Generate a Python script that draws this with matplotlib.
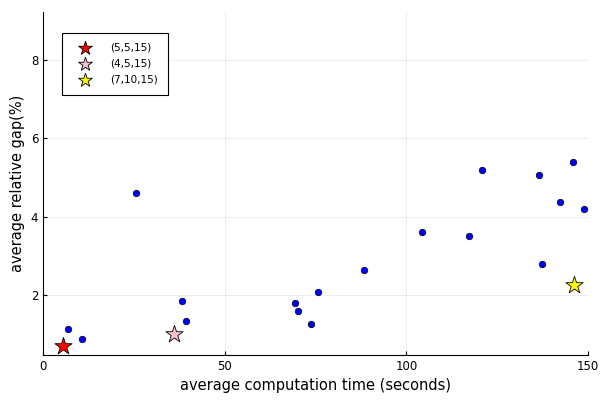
import matplotlib
matplotlib.use("Agg")
import matplotlib.pyplot as plt

# average computation time (s) vs average relative gap (%)
time_s = [6.8, 10.7, 25.6, 38.3, 39.4, 69.2, 70.2, 73.8, 75.7, 88.4,
          104.3, 117.3, 120.9, 136.6, 137.4, 142.4, 145.9, 148.9]
gap_pct = [1.14, 0.88, 4.60, 1.85, 1.35, 1.79, 1.60, 1.26, 2.09, 2.63,
           3.62, 3.52, 5.20, 5.07, 2.79, 4.39, 5.41, 4.20]

star_labels = ["(5,5,15)", "(4,5,15)", "(7,10,15)"]
star_x = [5.4, 36.1, 146.2]
star_y = [0.70, 1.00, 2.26]
star_colors = ["red", "pink", "yellow"]

fig = plt.figure(figsize=(6, 4), dpi=100)
ax = fig.add_axes([0.072, 0.1125, 0.908, 0.8575])

ax.scatter(time_s, gap_pct, s=22, c="blue", edgecolors="black", linewidths=0.5, zorder=3)
for lab, x, y, c in zip(star_labels, star_x, star_y, star_colors):
    ax.scatter([x], [y], marker="*", s=170, c=c, edgecolors="black",
               linewidths=0.6, label=lab, zorder=4)

ax.set_xlim(0, 150)
ax.set_ylim(0.47, 9.23)
ax.set_xticks([0, 50, 100, 150])
ax.set_yticks([2, 4, 6, 8])
ax.grid(True, color="black", alpha=0.08, linewidth=0.6)
ax.set_axisbelow(True)
for side in ["top", "right"]:
    ax.spines[side].set_visible(False)
ax.tick_params(direction="in", length=3, labelsize=8.5)
ax.set_xlabel("average computation time (seconds)", fontsize=10.5)
ax.set_ylabel("average relative gap(%)", fontsize=10.5)

leg = ax.legend(loc="upper left", bbox_to_anchor=(0.035, 0.94), fontsize=7.5,
                fancybox=False, edgecolor="black", framealpha=1,
                borderpad=1.0, borderaxespad=0, handletextpad=1.2,
                labelspacing=0.55, markerscale=0.8, handlelength=2.4)
leg.get_frame().set_linewidth(0.8)

fig.savefig("out.png", dpi=100)
